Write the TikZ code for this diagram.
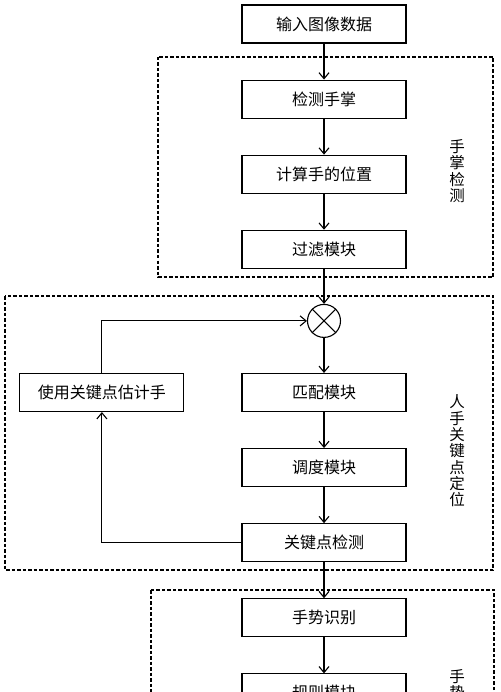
\documentclass[tikz,border=0pt]{standalone}
\usepackage{fontspec}
\setmainfont{Noto Sans CJK SC}
\usetikzlibrary{positioning,arrows.meta}
\begin{document}
\begin{tikzpicture}[
		x=1pt,y=1pt,
		node distance=36pt,
		box/.style={draw,line width=1.1pt,minimum width=164pt,minimum height=38pt,font=\fontsize{16}{18}\selectfont},
		frame/.style={draw,line width=1.1pt,dash pattern=on 3.5pt off 2pt},
		side/.style={align=center,inner sep=0pt,font=\fontsize{15.5}{16.3}\selectfont},
		flow/.style={line width=1.1pt,-{Straight Barb[length=6pt,width=10pt]}}
	]
	\path[use as bounding box,clip] (0,0) rectangle (500,-692);
	\node[box] (input) at (324,-24) {输入图像数据};
	\node[box,below=of input] (palm) {检测手掌};
	\node[box,below=of palm] (pos) {计算手的位置};
	\node[box,below=of pos] (filt) {过滤模块};
	\node[circle,draw,line width=1.1pt,minimum size=33pt,below=35pt of filt] (mix) {};
	\node[box,below=35pt of mix] (match) {匹配模块};
	\node[box,below=of match] (sched) {调度模块};
	\node[box,below=of sched] (kpd) {关键点检测};
	\node[box,left=57pt of match] (est) {使用关键点估计手};
	\node[box,below=of kpd] (gest) {手势识别};
	\node[box,below=of gest] (rule) {规则模块};
	\draw[line width=1.1pt] (mix.north west) -- (mix.south east) (mix.north east) -- (mix.south west);
	\draw[frame] (158,-57) rectangle (493,-277);
	\draw[frame] (5,-296) rectangle (493,-570);
	\draw[frame] (151,-590) rectangle (494,-760);
	\node[side] (palmlabel) at (457,-171) {手\\掌\\检\\测};
	\node[side] (kptlabel) at (457,-451) {人\\手\\关\\键\\点\\定\\位};
	\node[side,anchor=north] (gestlabel) at (457,-669) {手\\势};
	\draw[flow] (input) -- (palm);
	\draw[flow] (palm) -- (pos);
	\draw[flow] (pos) -- (filt);
	\draw[flow] (filt) -- (mix);
	\draw[flow] (mix) -- (match);
	\draw[flow] (match) -- (sched);
	\draw[flow] (sched) -- (kpd);
	\draw[flow] (kpd) -- (gest);
	\draw[flow] (gest) -- (rule);
	\draw[flow] (kpd.west) -| (est.south);
	\draw[flow] (est.north) |- (mix.west);
\end{tikzpicture}
\end{document}
